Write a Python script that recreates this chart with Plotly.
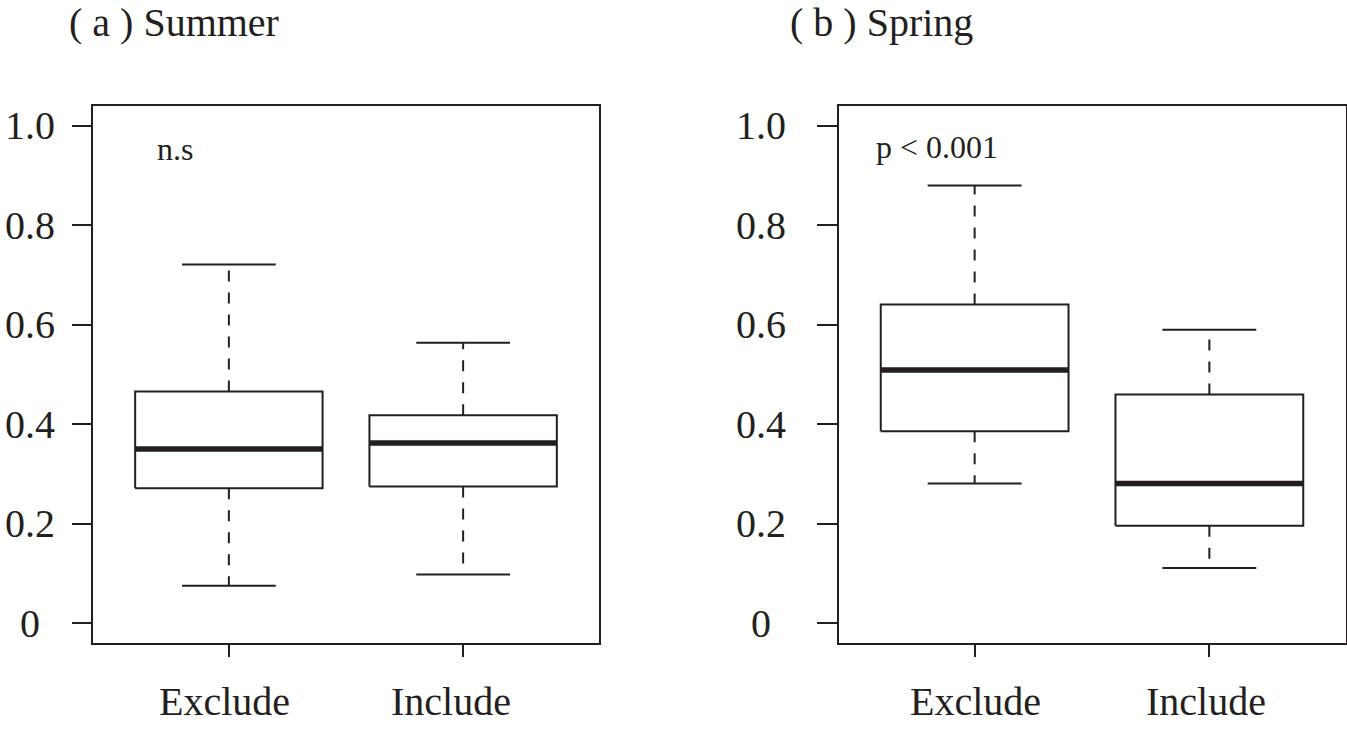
import plotly.graph_objects as go

# ---- data ----
categories = ["Exclude", "Include"]
positions = [1, 2]

summer_lower = [0.075, 0.098]
summer_q1 = [0.271, 0.275]
summer_median = [0.350, 0.362]
summer_q3 = [0.466, 0.418]
summer_upper = [0.721, 0.564]

spring_lower = [0.281, 0.111]
spring_q1 = [0.386, 0.196]
spring_median = [0.509, 0.281]
spring_q3 = [0.641, 0.460]
spring_upper = [0.880, 0.590]

panel_titles = ["( a ) Summer", "( b ) Spring"]
panel_notes = ["n.s", "p < 0.001"]
note_x = [0.77, 0.84]
note_y = [0.953, 0.957]

y_ticks = [0, 0.2, 0.4, 0.6, 0.8, 1.0]
y_tick_labels = ["0", "0.2", "0.4", "0.6", "0.8", "1.0"]

# ---- style ----
W, H = 1347, 733
FONT = "Liberation Serif, Times New Roman, serif"
INK = "#231F20"
HALF_BOX = 0.4
HALF_CAP = 0.2
LW = 2

fig = go.Figure()


def add_boxes(xref, yref, lower, q1, med, q3, upper):
    for i, xc in enumerate(positions):
        common = dict(xaxis=xref, yaxis=yref, mode="lines", showlegend=False,
                      hoverinfo="skip")
        # whiskers (dashed)
        fig.add_trace(go.Scatter(x=[xc, xc, None, xc, xc],
                                 y=[q3[i], upper[i], None, q1[i], lower[i]],
                                 line=dict(color=INK, width=LW, dash="11px,11px"),
                                 **common))
        # staples
        fig.add_trace(go.Scatter(x=[xc - HALF_CAP, xc + HALF_CAP, None,
                                    xc - HALF_CAP, xc + HALF_CAP],
                                 y=[upper[i], upper[i], None, lower[i], lower[i]],
                                 line=dict(color=INK, width=LW), **common))
        # box
        fig.add_trace(go.Scatter(x=[xc - HALF_BOX, xc + HALF_BOX, xc + HALF_BOX,
                                    xc - HALF_BOX, xc - HALF_BOX],
                                 y=[q1[i], q1[i], q3[i], q3[i], q1[i]],
                                 line=dict(color=INK, width=LW), **common))
        # median
        fig.add_trace(go.Scatter(x=[xc - HALF_BOX, xc + HALF_BOX],
                                 y=[med[i], med[i]],
                                 line=dict(color=INK, width=5.5), **common))


add_boxes("x", "y", summer_lower, summer_q1, summer_median, summer_q3, summer_upper)
add_boxes("x2", "y2", spring_lower, spring_q1, spring_median, spring_q3, spring_upper)

# plot area pixel geometry
left_dom = [93 / W, 599 / W]
right_dom = [838.5 / W, 1345.5 / W]
y_dom = [1 - 643 / H, 1 - 106 / H]

xax = dict(range=[0.42, 2.58], tickmode="array", tickvals=positions,
           showticklabels=False, ticks="outside", ticklen=12, tickwidth=LW,
           tickcolor=INK, showline=True, linewidth=LW, linecolor=INK,
           mirror=True, showgrid=False, zeroline=False, fixedrange=True)
yax = dict(range=[-0.04, 1.04], tickmode="array", tickvals=y_ticks,
           showticklabels=False, ticks="outside", ticklen=19, tickwidth=LW,
           tickcolor=INK, showline=True, linewidth=LW, linecolor=INK,
           mirror=True, showgrid=False, zeroline=False, domain=y_dom,
           fixedrange=True)

fig.update_layout(
    width=W, height=H,
    margin=dict(l=0, r=0, t=0, b=0),
    paper_bgcolor="white", plot_bgcolor="white",
    xaxis=dict(xax, domain=left_dom, anchor="y"),
    yaxis=dict(yax, anchor="x"),
    xaxis2=dict(xax, domain=right_dom, anchor="y2"),
    yaxis2=dict(yax, anchor="x2", ticklen=20),
)

annotations = []
label_x_px = [30, 761]
title_x_px = [173.5, 881]
cat_label_shift = [[-4, -12], [1, -3]]
for p, (xr, yr) in enumerate([("x", "y"), ("x2", "y2")]):
    # y tick labels (centred like the reference)
    for v, t in zip(y_ticks, y_tick_labels):
        annotations.append(dict(text=t, x=label_x_px[p] / W, xref="paper",
                                y=v, yref=yr, xanchor="center", yanchor="middle",
                                showarrow=False,
                                font=dict(family=FONT, size=40, color=INK)))
    # x category labels
    for k, (xc, c) in enumerate(zip(positions, categories)):
        annotations.append(dict(text=c, x=xc, xref=xr, y=1 - 701 / H,
                                yref="paper", xanchor="center", yanchor="middle",
                                xshift=cat_label_shift[p][k],
                                showarrow=False,
                                font=dict(family=FONT, size=40, color=INK)))
    # panel title
    annotations.append(dict(text=panel_titles[p], x=title_x_px[p] / W, xref="paper",
                            y=1 - 23 / H, yref="paper", xanchor="center",
                            yanchor="middle", showarrow=False,
                            font=dict(family=FONT, size=40, color=INK)))
    # significance note
    annotations.append(dict(text=panel_notes[p], x=note_x[p], xref=xr,
                            y=note_y[p], yref=yr, xanchor="center",
                            yanchor="middle", showarrow=False,
                            font=dict(family=FONT, size=32, color=INK)))

fig.update_layout(annotations=annotations)

fig.write_html(
    "out.html",
    config={"displayModeBar": False},
    post_script="document.body.style.margin='0';document.body.style.overflow='hidden';",
)
